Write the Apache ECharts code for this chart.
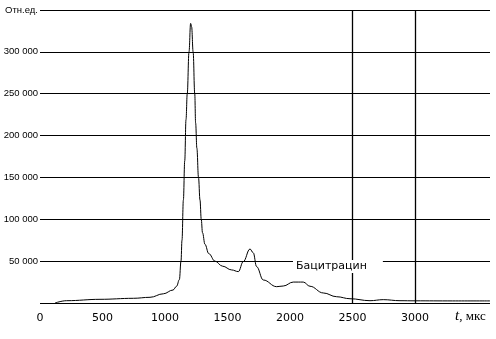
<!DOCTYPE html>
<html><head><meta charset="utf-8">
<script src="https://cdn.jsdelivr.net/npm/echarts@6/dist/echarts.min.js"></script>
<style>html,body{margin:0;padding:0;background:#fff}#c{width:496px;height:339px}</style>
</head><body><div id="c"></div>
<script>
const times = [120,213,480,747,880,987,1064,1093,1115,1128,1136,1147,1158,1168,1178,1192,1205,1213,1225,1238,1245,1255,1268,1280,1290,1300,1320,1350,1400,1460,1533,1587,1626,1680,1706,1733,1786,1893,1946,2026,2106,2160,2266,2373,2480,2640,2746,2880,3000,3300,3600];
const values = [0,2750,4400,5600,6800,11000,15500,20000,28000,50000,75000,123000,170000,219000,250000,300000,334000,330000,300000,250000,215000,185000,150000,123000,100000,84000,70000,59000,50000,44000,39500,37500,49400,64500,60000,43400,27500,19500,20300,25000,25000,20000,12000,7500,5100,2750,4000,2750,2600,2500,2500];
const xTickLabels = {0:'0',500:'500',1000:'1000',1500:'1500',2000:'2000',2500:'2500',3000:'3000'};
const yTickLabels = {50000:'50 000',100000:'100 000',150000:'150 000',200000:'200 000',250000:'250 000',300000:'300 000',350000:'Отн.ед.'};
const vLines = [2500, 3000];
const seriesName = 'Бацитрацин';

const chart = echarts.init(document.getElementById('c'), null, {renderer:'canvas'});
chart.setOption({
  animation:false,
  backgroundColor:'#fff',
  grid:{left:40,right:6,top:10,bottom:36},
  xAxis:{type:'value',min:0,max:3600,interval:500,
    axisLine:{show:false},axisTick:{show:false},splitLine:{show:false},
    axisLabel:{margin:10,color:'#000',fontFamily:'DejaVu Sans',fontSize:11,
      formatter:v=>xTickLabels[v]!==undefined?xTickLabels[v]:''}},
  yAxis:{type:'value',min:0,max:350000,interval:50000,
    axisLine:{show:false},axisTick:{show:false},
    splitLine:{show:true,lineStyle:{color:'#000',width:1}},
    axisLabel:{margin:2,color:'#000',fontFamily:'Liberation Sans',fontSize:9.5,
      formatter:v=>yTickLabels[v]!==undefined?yTickLabels[v]:''}},
  series:[{type:'line',name:seriesName,data:times.map((t,i)=>[t,values[i]]),
    showSymbol:false,smooth:0.4,smoothMonotone:'x',
    lineStyle:{color:'#000',width:1},
    markLine:{silent:true,symbol:'none',label:{show:false},
      lineStyle:{color:'#000',width:1.3,type:'solid'},
      data:vLines.map(v=>({xAxis:v}))}}],
  graphic:[
    {type:'text',left:293,top:260,z:10,style:{text:seriesName,fill:'#000',
      font:'11px "DejaVu Sans"',backgroundColor:'#fff',padding:[1,16,1,3]}},
    {type:'text',left:455,top:309,z:10,style:{rich:{
      a:{fontFamily:'Liberation Serif',fontStyle:'italic',fontSize:15,fill:'#000'},
      b:{fontFamily:'Liberation Serif',fontSize:13,fill:'#000'}},
      text:'{a|t}{b|, мкс}'}}
  ]
});
</script></body></html>
